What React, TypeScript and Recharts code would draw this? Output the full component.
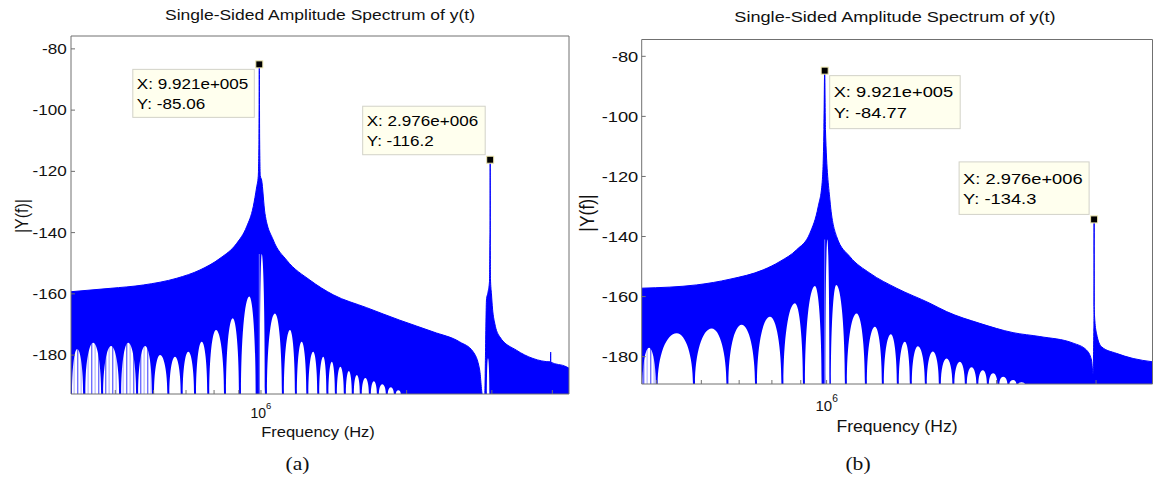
import React from 'react';
import { ComposedChart, Area, Line, XAxis, YAxis, ReferenceDot } from 'recharts';

type P = [number, number];
type Dome = [number, number, number, number]; // [left foot f, apex f, apex value, right foot f]

// ---------------- panel (a) ----------------
const aXDomain: P = [4.05e5, 4.33e6];
const aYDomain: P = [-192.7, -75.8];
const aXTicks = [5e5, 6e5, 7e5, 8e5, 9e5, 1e6, 2e6, 3e6, 4e6];
const aYTicks = [-180, -160, -140, -120, -100, -80];

const aUpper: P[] = [
  [4.05e5, -159.3], [4.88e5, -158.2], [5.715e5, -157.1], [6.7e5, -154.9], [7.48e5, -152.2],
  [8.23e5, -148.4], [8.91e5, -143.5], [9.34e5, -138.1], [9.64e5, -131.5], [9.8e5, -125],
  [9.87e5, -121.7], [9.905e5, -109.7], [9.921e5, -85.06], [9.937e5, -109.7], [9.97e5, -121.5],
  [1.003e6, -122.8], [1.019e6, -133.7], [1.06e6, -142.4], [1.13e6, -149], [1.262e6, -155.5],
  [1.41e6, -160.3], [1.653e6, -164.5], [1.936e6, -168.6], [2.268e6, -172.4], [2.575e6, -175.7],
  [2.744e6, -178.9], [2.831e6, -184.9], [2.869e6, -193], [2.9e6, -193], [2.91e6, -180],
  [2.924e6, -162], [2.945e6, -159.5], [2.966e6, -156], [2.972e6, -143.5], [2.975e6, -136],
  [2.976e6, -116.2], [2.977e6, -136], [2.98e6, -155], [2.994e6, -160], [3.01e6, -165],
  [3.041e6, -169.6], [3.114e6, -174], [3.372e6, -178.4], [3.648e6, -181.1], [3.965e6, -182.2],
  [3.968e6, -179], [3.971e6, -182.3], [4.276e6, -183.8], [4.33e6, -184.3],
];

// low-frequency lobes broken up by aliasing stripes
const aDomesSoft: Dome[] = [
  [4.07e5, 4.171e5, -178, 4.291e5], [4.333e5, 4.501e5, -176, 4.675e5], [4.72e5, 4.902e5, -177, 5.093e5],
  [5.142e5, 5.315e5, -176, 5.521e5], [5.574e5, 5.762e5, -177, 5.956e5],
];
const aDomes: Dome[] = [
  [6.014e5, 6.187e5, -180, 6.406e5],
  [6.468e5, 6.643e5, -180.5, 6.826e5], [6.892e5, 7.077e5, -178.9, 7.273e5], [7.343e5, 7.544e5, -175.6, 7.746e5],
  [7.82e5, 8.074e5, -171.8, 8.387e5], [8.467e5, 8.743e5, -168, 9.007e5], [9.093e5, 9.46e5, -160.9, 9.75e5],
  [9.95e5, 1.0035e6, -147, 1.019e6],
  [1.029e6, 1.0687e6, -166.4, 1.1048e6], [1.1154e6, 1.148e6, -171.8, 1.1754e6], [1.1867e6, 1.2134e6, -175.6, 1.241e6],
  [1.253e6, 1.282e6, -178.9, 1.3072e6], [1.3198e6, 1.345e6, -180.5, 1.3654e6], [1.3786e6, 1.401e6, -182.2, 1.4217e6],
  [1.4354e6, 1.459e6, -183.8, 1.4835e6], [1.4977e6, 1.519e6, -185.2, 1.5406e6], [1.5554e6, 1.578e6, -186.5, 1.6003e6],
  [1.6157e6, 1.643e6, -187.5, 1.671e6], [1.687e6, 1.711e6, -188.5, 1.7357e6], [1.7524e6, 1.781e6, -189.5, 1.8113e6],
  [1.8287e6, 1.855e6, -190.5, 1.882e6], [1.9e6, 1.922e6, -191.5, 1.945e6],
  [2.93e6, 2.945e6, -181, 2.965e6],
];

const aPeakLine: P[] = [[9.921e5, -192.7], [9.921e5, -147]];

// ---------------- panel (b) ----------------
const bXDomain: P = [4.705e5, 3.776e6];
const bYDomain: P = [-189.1, -74.4];
const bXTicks = [5e5, 6e5, 7e5, 8e5, 9e5, 1e6, 2e6, 3e6];
const bYTicks = [-180, -160, -140, -120, -100, -80];

const bUpper: P[] = [
  [4.705e5, -157.2], [5.888e5, -156.1], [6.743e5, -154.2], [7.72e5, -151.1], [8.268e5, -148.3],
  [8.849e5, -144.4], [9.341e5, -138.9], [9.663e5, -130], [9.82e5, -122], [9.89e5, -104.4],
  [9.921e5, -84.77], [9.952e5, -104.4], [1.0135e6, -127.8], [1.0416e6, -140], [1.0996e6, -146.7],
  [1.193e6, -152.2], [1.33e6, -157.2], [1.523e6, -162.2], [1.631e6, -165], [1.867e6, -168.9],
  [2.139e6, -172], [2.385e6, -173.3], [2.733e6, -175.5], [2.885e6, -177.8], [2.944e6, -181.1],
  [2.964e6, -185.8], [2.972e6, -172], [2.975e6, -163.3], [2.976e6, -134.3], [2.977e6, -163.3],
  [2.985e6, -168], [3.005e6, -172.2], [3.067e6, -176.7], [3.26e6, -178.9], [3.489e6, -180.6],
  [3.776e6, -181.7],
];

const bDomesSoft: Dome[] = [[4.72e5, 4.848e5, -177, 4.982e5]];
const bDomes: Dome[] = [
  [5.022e5, 5.427e5, -172.2, 5.799e5], [5.847e5, 6.259e5, -170.6, 6.647e5],
  [6.701e5, 7.071e5, -169.4, 7.468e5], [7.529e5, 7.936e5, -166.7, 8.317e5], [8.385e5, 8.788e5, -162.2, 9.08e5],
  [9.154e5, 9.535e5, -156.5, 9.798e5],
  [9.95e5, 1.003e6, -141, 1.0115e6],
  [1.0176e6, 1.04e6, -156.1, 1.0774e6], [1.0862e6, 1.13e6, -165.6, 1.1689e6], [1.1785e6, 1.2176e6, -170, 1.2527e6],
  [1.2629e6, 1.2994e6, -172.5, 1.3316e6], [1.3425e6, 1.3757e6, -175, 1.4042e6], [1.4157e6, 1.4506e6, -176.5, 1.4927e6],
  [1.5049e6, 1.5421e6, -178.3, 1.5803e6], [1.5932e6, 1.6308e6, -180.6, 1.6698e6], [1.6834e6, 1.7215e6, -181.7, 1.7568e6],
  [1.7712e6, 1.8055e6, -183.5, 1.8413e6], [1.8563e6, 1.8906e6, -184.5, 1.922e6], [1.9377e6, 1.972e6, -185.5, 2.006e6],
  [2.0224e6, 2.0541e6, -186.7, 2.0896e6], [2.1067e6, 2.1396e6, -187.8, 2.1676e6], [2.1853e6, 2.2138e6, -188.5, 2.2437e6],
];

const bPeakLine: P[] = [[9.921e5, -189.1], [9.921e5, -141]];

// data tips
type Tip = { f: number; v: number; lines: string[]; left: boolean; below: boolean; w: number; h: number };
const aTips: Tip[] = [
  { f: 9.921e5, v: -85.06, lines: ['X: 9.921e+005', 'Y: -85.06'], left: true, below: true, w: 121.5, h: 48 },
  { f: 2.976e6, v: -116.2, lines: ['X: 2.976e+006', 'Y: -116.2'], left: true, below: false, w: 122.5, h: 48.5 },
];
const bTips: Tip[] = [
  { f: 9.921e5, v: -84.77, lines: ['X: 9.921e+005', 'Y: -84.77'], left: false, below: true, w: 130.5, h: 53 },
  { f: 2.976e6, v: -134.3, lines: ['X: 2.976e+006', 'Y: -134.3'], left: true, below: false, w: 130, h: 52.5 },
];

const ARIAL = '"Liberation Sans", Arial, Helvetica, sans-serif';
const SERIF = '"Liberation Serif", "Times New Roman", serif';
const SX = 1.22;
const BLUE = '#0000ff';
const AXIS = '#707070';

const rows = (pts: P[]) => pts.map(([f, v]) => ({ f, v }));
const domeRows = (domes: Dome[], floor: number) => {
  const out: { f: number; v: number }[] = [];
  domes.forEach(([l, a, v, r]) => {
    out.push({ f: l, v: floor }, { f: a, v }, { f: r, v: floor });
  });
  return out;
};

// Curve factory: quarter-ellipse arcs, vertical where a lobe meets the floor, flat at its top.
function ArchCurve(this: any, ctx: any) { this._ctx = ctx; }
ArchCurve.prototype = {
  areaStart() { this._line = 0; },
  areaEnd() { this._line = NaN; },
  lineStart() { this._point = 0; },
  lineEnd() {
    if (this._line || (this._line !== 0 && this._point === 1)) this._ctx.closePath();
    this._line = 1 - this._line;
  },
  point(x: number, y: number) {
    x = +x; y = +y;
    const k = 0.5523;
    if (this._point === 0) {
      this._point = 1;
      if (this._line) this._ctx.lineTo(x, y); else this._ctx.moveTo(x, y);
    } else {
      const x0 = this._x0, y0 = this._y0;
      if (y < y0 - 0.01) {
        this._ctx.bezierCurveTo(x0, y0 + k * (y - y0), x - k * (x - x0), y, x, y);
      } else if (y > y0 + 0.01) {
        this._ctx.bezierCurveTo(x0 + k * (x - x0), y0, x, y - k * (y - y0), x, y);
      } else {
        this._ctx.lineTo(x, y);
      }
    }
    this._x0 = x; this._y0 = y;
  },
};
const curveArch: any = (ctx: any) => new (ArchCurve as any)(ctx);

function tipShape(t: Tip, fs: number, b1: number, b2: number) {
  return (props: any) => {
    const cx = props.cx as number;
    const cy = props.cy as number;
    const bx = t.left ? cx - 5 - t.w : cx + 5;
    const by = t.below ? cy + 5 : cy - 5 - t.h;
    return (
      <g>
        <rect x={bx} y={by} width={t.w} height={t.h} fill="#ffffee" stroke="#d2d2c8" strokeWidth={1} />
        <text transform={`translate(${bx + 4},${by + b1}) scale(${SX},1)`} fontSize={fs} fontFamily={ARIAL} fill="#000">{t.lines[0]}</text>
        <text transform={`translate(${bx + 4},${by + b2}) scale(${SX},1)`} fontSize={fs} fontFamily={ARIAL} fill="#000">{t.lines[1]}</text>
        <rect x={cx - 3.5} y={cy - 3.5} width={7} height={7} fill="#000" stroke="#efe8b0" strokeWidth={1} />
      </g>
    );
  };
}

function makeYTick(fs: number) {
  return (props: any) => (
    <text transform={`translate(${props.x},${props.y}) scale(${SX},1)`} dy="0.36em" textAnchor="end" fontSize={fs} fontFamily={ARIAL} fill="#111">
      {props.payload.value}
    </text>
  );
}

function makeXTick(fs: number, base: number) {
  return (props: any) => {
    if (props.payload.value !== 1e6) return <g />;
    return (
      <text x={props.x} y={props.y + base} textAnchor="middle" fontSize={fs} fontFamily={ARIAL} fill="#111">
        10<tspan dy={-9} fontSize={fs * 0.68}>6</tspan>
      </text>
    );
  };
}

type Cfg = {
  width: number; height: number;
  margin: { top: number; right: number; bottom: number; left: number };
  xDomain: P; yDomain: P; xTicks: number[]; yTicks: number[];
  upper: P[]; domes: Dome[]; soft: Dome[]; peak: P[]; tips: Tip[];
  fs: number; tipFs: number; b1: number; b2: number; xBase: number; yMargin: number;
};

function Spectrum({ c }: { c: Cfg }) {
  return (
    <ComposedChart width={c.width} height={c.height} margin={c.margin}>
      <XAxis xAxisId="b" dataKey="f" type="number" scale="log" domain={c.xDomain} allowDataOverflow ticks={c.xTicks}
        interval={0} height={1} tickSize={-4} tickMargin={4} axisLine={{ stroke: AXIS }} tickLine={{ stroke: AXIS }}
        tick={makeXTick(c.fs, c.xBase)} />
      <XAxis xAxisId="t" orientation="top" dataKey="f" type="number" scale="log" domain={c.xDomain} allowDataOverflow
        ticks={c.xTicks} interval={0} height={1} tickSize={-4} axisLine={{ stroke: AXIS }} tickLine={{ stroke: AXIS }} tick={false} />
      <YAxis yAxisId="l" type="number" domain={c.yDomain} allowDataOverflow ticks={c.yTicks} interval={0} width={1}
        tickSize={-4} tickMargin={c.yMargin} axisLine={{ stroke: AXIS }} tickLine={{ stroke: AXIS }} tick={makeYTick(c.fs)} />
      <YAxis yAxisId="r" orientation="right" type="number" domain={c.yDomain} allowDataOverflow ticks={c.yTicks} interval={0}
        width={1} tickSize={-4} axisLine={{ stroke: AXIS }} tickLine={{ stroke: AXIS }} tick={false} />
      <Area xAxisId="b" yAxisId="l" data={rows(c.upper)} dataKey="v" type="monotone" fill={BLUE} fillOpacity={1}
        stroke={BLUE} strokeWidth={1} baseValue={c.yDomain[0]} dot={false} activeDot={false} isAnimationActive={false} />
      <Area xAxisId="b" yAxisId="l" data={domeRows(c.soft, c.yDomain[0])} dataKey="v" type={curveArch} fill="url(#aliasStripes)"
        fillOpacity={1} stroke="none" baseValue={c.yDomain[0]} dot={false} activeDot={false} isAnimationActive={false} />
      <Area xAxisId="b" yAxisId="l" data={domeRows(c.domes, c.yDomain[0])} dataKey="v" type={curveArch} fill="#ffffff"
        fillOpacity={1} stroke="none" baseValue={c.yDomain[0]} dot={false} activeDot={false} isAnimationActive={false} />
      <Line xAxisId="b" yAxisId="l" data={rows(c.peak)} dataKey="v" type="linear" stroke="#7272ff" strokeWidth={1}
        dot={false} activeDot={false} isAnimationActive={false} />
      <Line xAxisId="t" yAxisId="r" data={rows(c.upper)} dataKey="v" stroke="none" dot={false} activeDot={false}
        isAnimationActive={false} />
      {c.tips.map((t, i) => (
        <ReferenceDot key={i} xAxisId="b" yAxisId="l" x={t.f} y={t.v} ifOverflow="visible"
          shape={tipShape(t, c.tipFs, c.b1, c.b2)} />
      ))}
    </ComposedChart>
  );
}

const cfgA: Cfg = {
  width: 580, height: 479, margin: { top: 35, right: 10, bottom: 84, left: 70 },
  xDomain: aXDomain, yDomain: aYDomain, xTicks: aXTicks, yTicks: aYTicks,
  upper: aUpper, domes: aDomes, soft: aDomesSoft, peak: aPeakLine, tips: aTips,
  fs: 14, tipFs: 14, b1: 19.3, b2: 39.3, xBase: 24, yMargin: 8.3,
};
const cfgB: Cfg = {
  width: 575, height: 479, margin: { top: 38.5, right: 1.5, bottom: 94, left: 60.7 },
  xDomain: bXDomain, yDomain: bYDomain, xTicks: bXTicks, yTicks: bYTicks,
  upper: bUpper, domes: bDomes, soft: bDomesSoft, peak: bPeakLine, tips: bTips,
  fs: 15, tipFs: 15, b1: 21.7, b2: 42, xBase: 27, yMargin: 7.4,
};

function Txt({ x, y, fs, text, sx = SX, sy = 1, family = ARIAL, rotate = 0 }: any) {
  return (
    <text transform={`translate(${x},${y})${rotate ? ` rotate(${rotate})` : ''} scale(${sx},${sy})`} textAnchor="middle"
      fontSize={fs} fontFamily={family} fill="#111">{text}</text>
  );
}

export default function App() {
  return (
    <div style={{ position: 'absolute', left: 0, top: 0, width: 1153, height: 479, overflow: 'hidden', background: '#fff' }}>
      <div style={{ position: 'absolute', left: 0, top: 0 }}>
        <Spectrum c={cfgA} />
      </div>
      <div style={{ position: 'absolute', left: 580, top: 0 }}>
        <Spectrum c={cfgB} />
      </div>
      <svg width={1153} height={479} style={{ position: 'absolute', left: 0, top: 0, pointerEvents: 'none' }}>
        <defs>
          <pattern id="aliasStripes" patternUnits="userSpaceOnUse" x={0} y={0} width={7} height={10}>
            <rect x={0} y={0} width={7} height={10} fill="#ffffff" />
            <rect x={0} y={0} width={1.4} height={10} fill="#6f6fff" />
            <rect x={3.6} y={0} width={1} height={10} fill="#a8a8ff" />
          </pattern>
        </defs>
        <Txt x={320} y={20} fs={14} sx={1.25} text="Single-Sided Amplitude Spectrum of y(t)" />
        <Txt x={895} y={22} fs={15} sx={1.21} text="Single-Sided Amplitude Spectrum of y(t)" />
        <Txt x={28} y={216} fs={16} sx={1} sy={1.2} rotate={-90} text="|Y(f)|" />
        <Txt x={594} y={213} fs={17.5} sx={1} sy={1.2} rotate={-90} text="|Y(f)|" />
        <Txt x={318} y={437} fs={15} sx={1.1} text="Frequency (Hz)" />
        <Txt x={897} y={432} fs={16} sx={1.1} text="Frequency (Hz)" />
        <Txt x={297.5} y={470} fs={18} sx={1.2} family={SERIF} text="(a)" />
        <Txt x={858} y={470} fs={18} sx={1.2} family={SERIF} text="(b)" />
      </svg>
    </div>
  );
}
